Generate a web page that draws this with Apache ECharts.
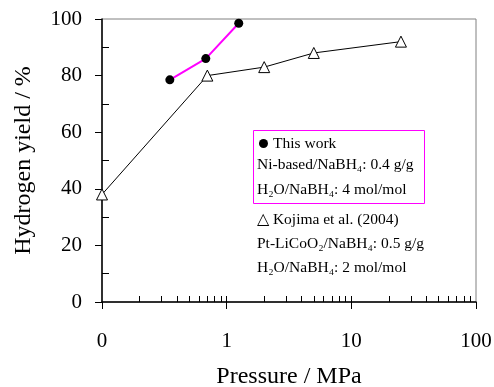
<!DOCTYPE html>
<html>
<head>
<meta charset="utf-8">
<script src="https://cdn.jsdelivr.net/npm/echarts@6/dist/echarts.min.js"></script>
<style>
  html, body { margin: 0; padding: 0; background: #fff; }
  #chart { width: 494px; height: 387px; }
</style>
</head>
<body>
<div id="chart"></div>
<script>
// this work (Ni-based catalyst)
const pressureWork = [0.35, 0.68, 1.25];
const yieldWork = [78.5, 86, 98.5];
// Kojima et al. (2004)
const pressureKojima = [0.1, 0.7, 2, 5, 25];
const yieldKojima = [38, 80, 83, 88, 92];
// axis ticks
const xMajorTicks = [0.1, 1, 10, 100];
const xMinorTicks = [0.2, 0.3, 0.4, 0.5, 0.6, 0.7, 0.8, 0.9, 1,
  2, 3, 4, 5, 6, 7, 8, 9, 10, 20, 30, 40, 50, 60, 70, 80, 90];
const yMinorTicks = [10, 30, 50, 70, 90];

const font = 'Liberation Serif';
const pairs = (xs, ys) => xs.map((x, i) => [x, ys[i]]);

const chart = echarts.init(document.getElementById('chart'));

const annotation = (text, x, y) => ({
  type: 'text',
  left: x,
  top: y,
  style: {
    text,
    fontFamily: font,
    fontSize: 15.5,
    fill: '#000',
  },
});

chart.setOption({
  animation: false,
  grid: {
    left: 102,
    right: 18,
    top: 19,
    bottom: 85,
    outerBoundsMode: 'none',
    show: true,
    borderColor: '#808080',
    borderWidth: 1,
  },
  xAxis: [{
    type: 'log',
    min: 0.1,
    max: 100,
    position: 'bottom',
    name: 'Pressure / MPa',
    nameLocation: 'middle',
    nameGap: 63,
    nameTextStyle: { fontFamily: font, fontSize: 24, color: '#000' },
    axisLine: { lineStyle: { color: '#000', width: 1.5 } },
    axisTick: { inside: false, length: 7, lineStyle: { color: '#000' }, customValues: xMajorTicks },
    axisLabel: {
      fontFamily: font,
      fontSize: 21,
      color: '#000',
      margin: 29,
      customValues: xMajorTicks,
      formatter: v => (v < 1 ? '0' : String(v)),
    },
    splitLine: { show: false },
  }, {
    type: 'log',
    min: 0.1,
    max: 100,
    position: 'bottom',
    axisLine: { show: false },
    axisTick: { inside: true, length: 6, lineStyle: { color: '#000' }, customValues: xMinorTicks },
    axisLabel: { show: false },
    splitLine: { show: false },
  }],
  yAxis: [{
    type: 'value',
    min: 0,
    max: 100,
    interval: 20,
    name: 'Hydrogen yield / %',
    nameLocation: 'middle',
    nameGap: 66,
    nameTextStyle: { fontFamily: font, fontSize: 24, color: '#000' },
    axisLine: { show: true, lineStyle: { color: '#000', width: 1.5 } },
    axisTick: { show: true, inside: false, length: 7, lineStyle: { color: '#000' } },
    axisLabel: { fontFamily: font, fontSize: 21, color: '#000', margin: 20 },
    splitLine: { show: false },
  }, {
    type: 'value',
    min: 0,
    max: 100,
    position: 'left',
    axisLine: { show: false },
    axisTick: { show: true, inside: true, length: 7, lineStyle: { color: '#000' }, customValues: yMinorTicks },
    axisLabel: { show: false },
    splitLine: { show: false },
  }],
  series: [{
    name: 'Kojima et al. (2004)',
    type: 'line',
    data: pairs(pressureKojima, yieldKojima),
    symbol: 'triangle',
    symbolSize: 11,
    lineStyle: { color: '#000', width: 1 },
    itemStyle: { color: '#fff', borderColor: '#000', borderWidth: 1 },
    z: 3,
  }, {
    name: 'This work',
    type: 'line',
    data: pairs(pressureWork, yieldWork),
    symbol: 'circle',
    symbolSize: 9,
    showSymbol: true,
    lineStyle: { color: '#ff00ff', width: 2 },
    itemStyle: { color: '#000', borderColor: '#000', borderWidth: 0 },
    z: 4,
  }],
  graphic: [
    {
      type: 'rect',
      left: 253,
      top: 130,
      shape: { width: 171, height: 73 },
      style: { fill: 'transparent', stroke: '#ff00ff', lineWidth: 1 },
    },
    {
      type: 'circle',
      left: 259,
      top: 139,
      shape: { r: 4.5 },
      style: { fill: '#000' },
    },
    annotation('This work', 273, 136),
    annotation('Ni-based/NaBH₄: 0.4 g/g', 257, 157),
    annotation('H₂O/NaBH₄: 4 mol/mol', 257, 182),
    annotation('△ Kojima et al. (2004)', 257, 212),
    annotation('Pt-LiCoO₂/NaBH₄: 0.5 g/g', 257, 236),
    annotation('H₂O/NaBH₄: 2 mol/mol', 257, 260),
  ],
});
</script>
</body>
</html>
